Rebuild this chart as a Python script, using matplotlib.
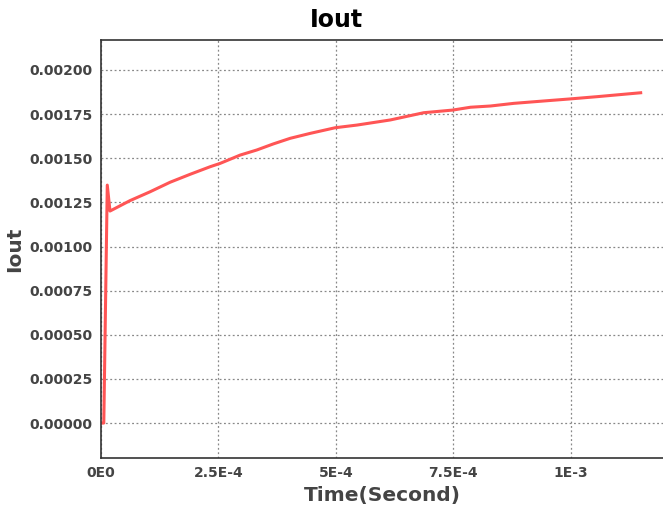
import matplotlib
matplotlib.use("Agg")
import matplotlib.pyplot as plt

# Iout transient
time_s = [0.0, 6e-6, 1.34e-5, 1.92e-5, 6.18e-5, 1.044e-4, 1.470e-4, 1.896e-4,
          2.323e-4, 2.536e-4, 2.962e-4, 3.318e-4, 3.665e-4, 4.027e-4, 4.453e-4,
          4.986e-4, 5.448e-4, 6.158e-4, 6.868e-4, 7.486e-4, 7.863e-4, 8.289e-4,
          8.785e-4, 9.497e-4, 9.979e-4, 1.0563e-3, 1.1485e-3]
iout = [0.0, 0.0, 0.001348, 0.001201, 0.001260, 0.001310, 0.001364, 0.001409,
        0.001452, 0.001471, 0.001518, 0.001547, 0.001581, 0.001613, 0.001641,
        0.001673, 0.001688, 0.001717, 0.001758, 0.001773, 0.001789, 0.001796,
        0.001811, 0.001826, 0.001836, 0.001849, 0.001871]

x_ticks = [0.0, 2.5e-4, 5e-4, 7.5e-4, 1e-3]
x_tick_labels = ['0E0', '2.5E-4', '5E-4', '7.5E-4', '1E-3']
y_ticks = [0.0, 0.00025, 0.0005, 0.00075, 0.001, 0.00125, 0.0015, 0.00175, 0.002]

fig = plt.figure(figsize=(6.63, 5.08), dpi=100)
ax = fig.add_axes([0.1523, 0.0984, 0.8477, 0.8229])

ax.plot(time_s, iout, color='#ff5555', linewidth=2.2)

ax.set_xlim(0, 1.196e-3)
ax.set_ylim(-0.000198, 0.00217)
ax.set_xticks(x_ticks)
ax.set_xticklabels(x_tick_labels)
ax.set_yticks(y_ticks)
ax.set_yticklabels([f'{v:.5f}' for v in y_ticks])
ax.tick_params(length=0, pad=6, labelsize=10, labelcolor='#444444')
for lbl in ax.get_xticklabels() + ax.get_yticklabels():
    lbl.set_fontweight('bold')

ax.grid(True, linestyle=(0, (1.5, 2)), color='#888888', linewidth=0.9)
ax.spines['right'].set_visible(False)
for s in ['left', 'top', 'bottom']:
    ax.spines[s].set_color('#333333')
    ax.spines[s].set_linewidth(1.2)

ax.set_xlabel('Time(Second)', fontsize=14.5, fontweight='bold', color='#444444')
ax.set_ylabel('Iout', fontsize=14.5, fontweight='bold', color='#444444')
fig.text(0.508, 0.9474, 'Iout', fontsize=17, fontweight='bold',
         ha='center', va='baseline')

fig.savefig('out.png', dpi=100)
